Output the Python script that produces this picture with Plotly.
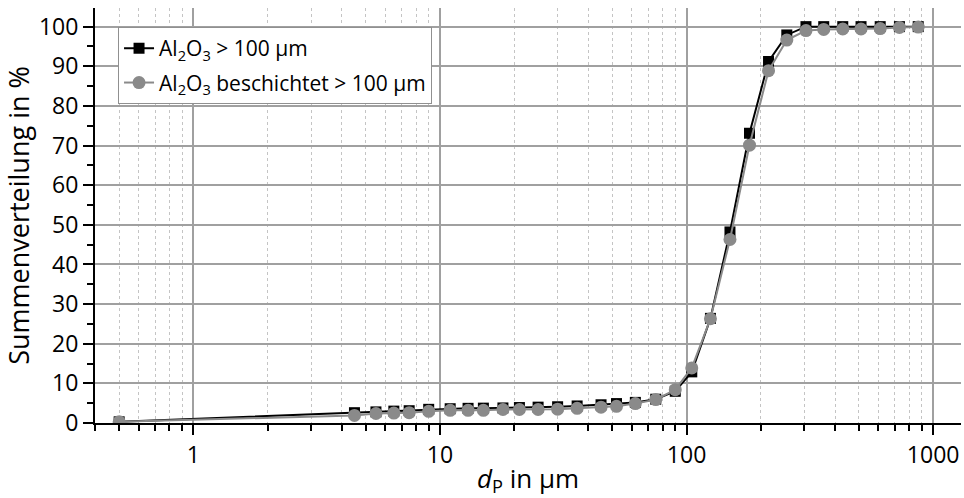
import plotly.graph_objects as go

# Particle size classes d_P in µm
d_um = [0.5, 4.5, 5.5, 6.5, 7.5, 9, 11, 13, 15, 18, 21, 25, 30, 36, 45, 52, 62, 75,
        90, 105, 125, 150, 180, 215, 255, 305, 360, 430, 510, 610, 730, 870]
# Cumulative distribution in %
q_al2o3 = [0.3, 2.6, 2.8, 3.0, 3.1, 3.45, 3.6, 3.7, 3.75, 3.8, 3.9, 4.0, 4.1, 4.3, 4.6, 4.9,
           5.2, 6.0, 8.0, 12.9, 26.4, 48.2, 73.1, 91.2, 97.9, 100.0, 100.0, 100.0, 100.0,
           100.0, 100.0, 100.0]
q_coated = [0.3, 1.9, 2.4, 2.5, 2.6, 2.95, 3.2, 3.2, 3.2, 3.4, 3.4, 3.4, 3.5, 3.7, 4.0, 4.2,
            4.9, 5.9, 8.4, 13.9, 26.3, 46.3, 70.1, 88.9, 96.6, 99.0, 99.3, 99.4, 99.4,
            99.5, 99.8, 99.9]

name_a = "Al<sub>2</sub>O<sub>3</sub> &gt; 100 µm"
name_b = "Al<sub>2</sub>O<sub>3</sub> beschichtet &gt; 100 µm"

x_ticks = [1, 10, 100, 1000]
x_tick_text = ["1", "10", "100", "1000"]
y_ticks = [0, 10, 20, 30, 40, 50, 60, 70, 80, 90, 100]

FONT = "Open Sans"
xr = [-0.399, 3.113]
yr = [0, 104.7]

fig = go.Figure()
fig.add_trace(go.Scatter(x=d_um, y=q_al2o3, name=name_a, mode="lines+markers",
                         legendgroup="a",
                         line=dict(color="black", width=2),
                         marker=dict(symbol="square", size=11, color="black")))
fig.add_trace(go.Scatter(x=d_um, y=q_coated, name=name_b, mode="lines+markers",
                         legendgroup="b",
                         line=dict(color="#8a8a8a", width=2),
                         marker=dict(symbol="circle", size=13, color="#8a8a8a")))

grid_major = "#a0a0a0"
grid_minor = "#c4c4c4"

fig.update_layout(
    width=964, height=498,
    margin=dict(l=95, r=3, t=8, b=75),
    paper_bgcolor="white", plot_bgcolor="white",
    font=dict(family=FONT, size=23, color="black"),
    showlegend=True,
    legend=dict(x=0.0266, y=0.954, xanchor="left", yanchor="top",
                bgcolor="white", bordercolor="#909090", borderwidth=1,
                font=dict(family=FONT, size=21, color="black"),
                tracegroupgap=4, traceorder="grouped"),
    xaxis=dict(type="log", range=xr, tickvals=x_ticks, ticktext=x_tick_text,
               ticks="outside", ticklen=10, tickwidth=2, tickcolor="black",
               showline=True, linecolor="black", linewidth=2,
               showgrid=True, gridcolor=grid_major, gridwidth=1.5,
               minor=dict(dtick="D1", ticks="outside", ticklen=6, tickwidth=2,
                          tickcolor="black", showgrid=True, gridcolor=grid_minor,
                          griddash="dot", gridwidth=1),
               tickfont=dict(size=23),
               title=dict(text="<i>d</i><sub>P</sub> in µm", font=dict(size=26),
                          standoff=2),
               zeroline=False),
    yaxis=dict(range=yr, tickvals=y_ticks,
               ticks="outside", ticklen=10, tickwidth=2, tickcolor="black",
               showline=True, linecolor="black", linewidth=2,
               showgrid=True, gridcolor=grid_major, gridwidth=1.5,
               minor=dict(dtick=5, ticks="outside", ticklen=6, tickwidth=2,
                          tickcolor="black", showgrid=False),
               tickfont=dict(size=23),
               title=dict(text="Summenverteilung in %", font=dict(size=27),
                          standoff=6),
               zeroline=False),
    xaxis2=dict(type="log", range=xr, overlaying="x", side="top", anchor="y",
                tickvals=x_ticks, showticklabels=False,
                ticks="inside", ticklen=9, tickwidth=2, tickcolor="black",
                showline=True, linecolor="black", linewidth=2, showgrid=False,
                minor=dict(dtick="D1", ticks="inside", ticklen=5, tickwidth=2,
                           tickcolor="black", showgrid=False),
                zeroline=False),
    yaxis2=dict(range=yr, overlaying="y", side="right", anchor="x",
                tickvals=y_ticks, showticklabels=False,
                ticks="inside", ticklen=9, tickwidth=2, tickcolor="black",
                showline=True, linecolor="black", linewidth=2, showgrid=False,
                minor=dict(dtick=5, ticks="inside", ticklen=5, tickwidth=2,
                           tickcolor="black", showgrid=False),
                zeroline=False),
)

fig.write_html("out.html",
               config={"displayModeBar": False},
               post_script="document.body.style.margin='0px';document.body.style.overflow='hidden';")
